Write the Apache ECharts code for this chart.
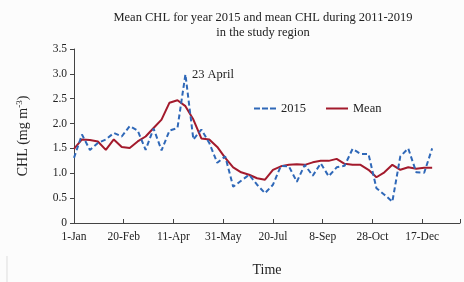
<!DOCTYPE html>
<html>
<head>
<meta charset="utf-8">
<script src="https://cdn.jsdelivr.net/npm/echarts@6/dist/echarts.min.js"></script>
<style>
  html, body { margin: 0; padding: 0; background: #fcfcfc; }
  #main { width: 464px; height: 282px; }
</style>
</head>
<body>
<div id="main"></div>
<script>
// day of year offset (0 = 1-Jan), 8-day composites
var days = [0, 8, 16, 24, 32, 40, 48, 56, 64, 72, 80, 88, 96, 104, 112, 120,
  128, 136, 144, 152, 160, 168, 176, 184, 192, 200, 208, 216, 224, 232, 240,
  248, 256, 264, 272, 280, 288, 296, 304, 312, 320, 328, 336, 344, 352, 360];

var chl2015 = [1.31, 1.78, 1.47, 1.61, 1.68, 1.81, 1.74, 1.95, 1.86, 1.47,
  1.90, 1.46, 1.86, 1.91, 2.99, 1.68, 1.88, 1.61, 1.21, 1.34,
  0.73, 0.85, 0.97, 0.77, 0.60, 0.77, 1.15, 1.14, 0.83, 1.17,
  0.95, 1.20, 0.94, 1.12, 1.15, 1.49, 1.39, 1.39, 0.70, 0.57,
  0.43, 1.34, 1.50, 1.02, 1.01, 1.50];

var chlMean = [1.49, 1.68, 1.67, 1.64, 1.47, 1.68, 1.53, 1.51, 1.64, 1.74,
  1.91, 2.08, 2.42, 2.47, 2.35, 2.08, 1.70, 1.68, 1.53, 1.31,
  1.12, 1.02, 0.97, 0.90, 0.87, 1.07, 1.14, 1.17, 1.18, 1.17,
  1.22, 1.25, 1.25, 1.29, 1.19, 1.17, 1.17, 1.07, 0.92, 1.02,
  1.17, 1.07, 1.12, 1.09, 1.11, 1.11];

var tickDays = [0, 50, 100, 150, 200, 250, 300, 350];
var tickLabels = ['1-Jan', '20-Feb', '11-Apr', '31-May', '20-Jul', '8-Sep', '28-Oct', '17-Dec'];

var font = 'Liberation Serif';
var txt = '#222';

function pairs(vals) {
  return vals.map(function (v, i) { return [days[i], v]; });
}

var myChart = echarts.init(document.getElementById('main'));
myChart.setOption({
  backgroundColor: '#fcfcfc',
  animation: false,
  textStyle: { fontFamily: font, color: txt },
  title: {
    text: 'Mean CHL for year 2015 and mean CHL during 2011-2019\nin the study region',
    left: 258, top: 5, textAlign: 'center',
    textStyle: { fontFamily: font, fontSize: 12.5, fontWeight: 'normal', color: txt, lineHeight: 15 }
  },
  legend: {
    left: 249, top: 97, itemWidth: 22, itemHeight: 10, itemGap: 20,
    textStyle: { fontFamily: font, fontSize: 12.5, color: txt },
    data: [
      { name: '2015', icon: 'path://M0,4h6v2h-6zM8,4h6v2h-6zM16,4h6v2h-6z' },
      { name: 'Mean', icon: 'path://M0,4h22v2h-22z' }
    ]
  },
  grid: { left: 74, right: 4, top: 49, bottom: 59 },
  xAxis: {
    type: 'value', min: 0, max: 388, interval: 50,
    name: 'Time', nameLocation: 'middle', nameGap: 40,
    nameTextStyle: { fontFamily: font, fontSize: 14, color: txt },
    axisLine: { lineStyle: { color: '#444', width: 1 } },
    axisTick: { inside: true, length: 4, lineStyle: { color: '#444' } },
    splitLine: { show: false },
    axisLabel: {
      fontFamily: font, fontSize: 11.5, color: txt, margin: 8,
      formatter: function (v) {
        var i = tickDays.indexOf(v);
        return i >= 0 ? tickLabels[i] : '';
      }
    }
  },
  yAxis: {
    type: 'value', min: 0, max: 3.5, interval: 0.5,
    name: 'CHL (mg m{sup|-3})', nameLocation: 'middle', nameGap: 42,
    nameTextStyle: {
      fontFamily: font, fontSize: 14, color: txt,
      rich: { sup: { fontFamily: font, fontSize: 9, color: txt, verticalAlign: 'top', padding: [0, 0, 8, 0] } }
    },
    axisLine: { show: true, lineStyle: { color: '#444', width: 1 } },
    axisTick: { show: true, length: 4, lineStyle: { color: '#444' } },
    splitLine: { show: false },
    axisLabel: {
      fontFamily: font, fontSize: 11.5, color: txt, margin: 7,
      formatter: function (v) { return v === 0 ? '0' : v.toFixed(1); }
    }
  },
  series: [
    {
      name: '2015', type: 'line', data: pairs(chl2015),
      symbol: 'none', color: '#2f68b8',
      lineStyle: { width: 2, type: [5, 3], color: '#2f68b8' },
      markPoint: {
        symbol: 'circle', symbolSize: 1,
        itemStyle: { color: 'rgba(0,0,0,0)' },
        label: {
          show: true, position: 'right', distance: 6,
          formatter: '23 April', fontFamily: font, fontSize: 12.5, color: txt
        },
        data: [{ coord: [112, 2.99] }]
      },
      z: 3
    },
    {
      name: 'Mean', type: 'line', data: pairs(chlMean),
      symbol: 'none', color: '#a31a2c',
      lineStyle: { width: 2, color: '#a31a2c' },
      z: 2
    }
  ],
  graphic: [
    { type: 'line', shape: { x1: 7, y1: 256, x2: 7, y2: 282 }, style: { stroke: '#ddd', lineWidth: 1 } }
  ]
});
window.onresize = function () { myChart.resize(); };
</script>
</body>
</html>
